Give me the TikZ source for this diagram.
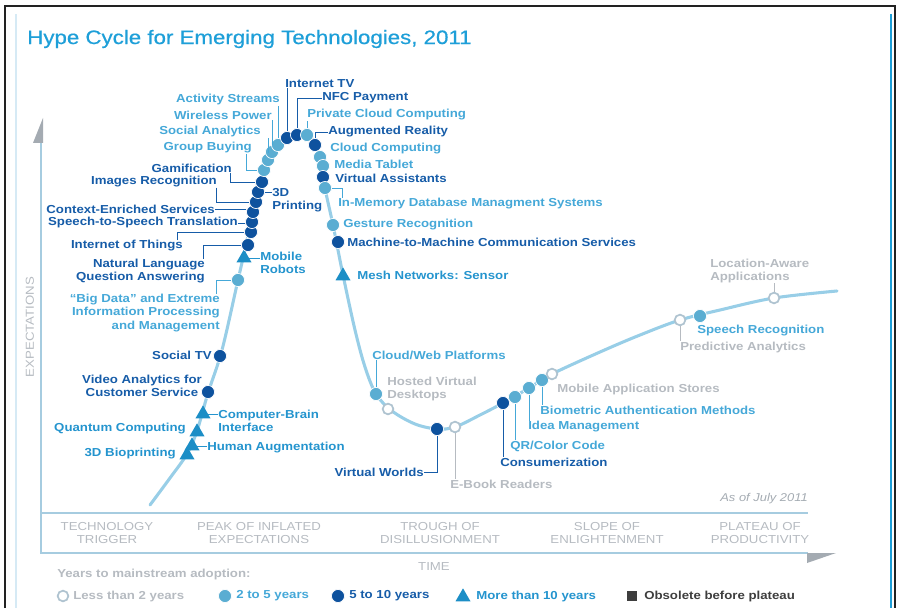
\documentclass[tikz,border=0pt]{standalone}
\usepackage{fontspec}
\setmainfont{Liberation Sans}[FakeStretch=1.14]
\newfontfamily\titlefont{Liberation Sans}[FakeStretch=1.145, FakeBold=0.6]
\usetikzlibrary{shapes.geometric}
\definecolor{TT}{HTML}{1E9FD8}
\definecolor{LT}{HTML}{45A8D8}
\definecolor{LC}{HTML}{5AADD2}
\definecolor{DK}{HTML}{165CA8}
\definecolor{DC}{HTML}{0E529E}
\definecolor{TB}{HTML}{2494CE}
\definecolor{TC}{HTML}{1C8EC6}
\definecolor{GY}{HTML}{B6BBC1}
\definecolor{GA}{HTML}{A4ABB2}
\definecolor{CV}{HTML}{98CEE7}
\definecolor{AX}{HTML}{A6CCE0}
\definecolor{OC}{HTML}{AFC3D0}
\definecolor{OB}{HTML}{3E3E3E}
\definecolor{FR}{HTML}{222222}
\begin{document}
\begin{tikzpicture}[x=0.75pt,y=-0.75pt,
  lbl/.style={font=\bfseries\fontsize{8.7}{10}\selectfont, inner sep=0pt},
  phase/.style={font=\fontsize{8.7}{10.3}\selectfont, inner sep=0pt, text=GY, align=center},
  mL/.style={circle, fill=LC, draw=white, line width=0.5pt, minimum size=9.8pt, inner sep=0pt},
  mD/.style={circle, fill=DC, draw=white, line width=0.5pt, minimum size=9.8pt, inner sep=0pt},
  mO/.style={circle, fill=white, draw=OC, line width=1.3pt, minimum size=8pt, inner sep=0pt},
  mT/.style={regular polygon, regular polygon sides=3, fill=TC, minimum size=13pt, inner sep=0pt},
  ldL/.style={draw=LT, line width=0.6pt},
  ldD/.style={draw=DK, line width=0.6pt},
  ldT/.style={draw=TB, line width=0.6pt},
  ldG/.style={draw=GY, line width=0.6pt}]
\useasboundingbox (0,0) rectangle (898,616);
% frame
\draw[FR, line width=2.2pt] (5,608) -- (5,6) -- (895,6) -- (895,608);
\draw[draw={rgb,255:red,214;green,234;blue,245}, line width=0.8pt] (16,14) -- (16,608);
\draw[TT, line width=1.5pt] (891,14) -- (891,608);
% title
\node[anchor=west, inner sep=0pt, text=TT, font=\titlefont\fontsize{14.6}{16}\selectfont] (title) at (27,39) {Hype Cycle for Emerging Technologies, 2011};
% axes
\draw[AX, line width=0.8pt] (41,140) -- (41,553) -- (808,553);
\draw[AX, line width=0.8pt] (41,513) -- (808,513);
\fill[GA] (43,118) -- (43,143) -- (33,143) -- cycle;
\fill[GA] (807,553) -- (836,553) -- (807,563) -- cycle;
\node[phase, rotate=90] (yl) at (30,327) {EXPECTATIONS};
\node[phase] (p1) at (107,533) {TECHNOLOGY\\TRIGGER};
\node[phase] (p2) at (259,533) {PEAK OF INFLATED\\EXPECTATIONS};
\node[phase] (p3) at (440,533) {TROUGH OF\\DISILLUSIONMENT};
\node[phase] (p4) at (607,533) {SLOPE OF\\ENLIGHTENMENT};
\node[phase] (p5) at (760,533) {PLATEAU OF\\PRODUCTIVITY};
\node[phase] (time) at (434,567) {TIME};
\node[anchor=east, inner sep=0pt, text=GA, font=\itshape\fontsize{8.5}{10}\selectfont] (asof) at (808,499) {As of July 2011};
% curve
\draw[CV, line width=2.3pt, line cap=round] plot[smooth, tension=0.55] coordinates {
 (150,505) (170,478) (187,454) (197,431) (208,393) (222,350) (238,280) (246,245) (253,212) (262,180) (272,153) (285,139) (300,133) (313,140) (321,158) (325,188) (333,225) (343,275) (355,330) (365,367) (376,394) (392,411) (415,424) (437,429) (455,427) (480,415) (503,403) (529,388) (552,374) (600,352) (640,335) (680,320) (720,310) (774,298) (837,291)};
% markers
\node[mT] (t1) at (187,455) {};
\node[mT] (t2) at (192,446) {};
\node[mT] (t3) at (197,432) {};
\node[mT] (t4) at (203,414) {};
\node[mD] (d1) at (208,392) {};
\node[mD] (d2) at (220,356) {};
\node[mL] (l1) at (238,280) {};
\node[mT] (t5) at (244,258) {};
\node[mD] (d3) at (248,245) {};
\node[mD] (d4) at (251,232) {};
\node[mD] (d5) at (252,222) {};
\node[mD] (d6) at (253,212) {};
\node[mD] (d7) at (256,202) {};
\node[mD] (d8) at (258,192) {};
\node[mD] (d9) at (262,182) {};
\node[mL] (l2) at (264,170) {};
\node[mL] (l3) at (268,160) {};
\node[mL] (l4) at (272,152) {};
\node[mL] (l5) at (278,145) {};
\node[mD] (d10) at (287,138) {};
\node[mD] (d11) at (297,135) {};
\node[mL] (l6) at (307,135) {};
\node[mD] (d12) at (315,145) {};
\node[mL] (l7) at (320,157) {};
\node[mL] (l8) at (323,166) {};
\node[mD] (d13) at (323,177) {};
\node[mL] (l9) at (325,188) {};
\node[mL] (l10) at (333,225) {};
\node[mD] (d14) at (338,242) {};
\node[mT] (t6) at (343,276) {};
\node[mL] (l11) at (376,394) {};
\node[mO] (o1) at (388,409) {};
\node[mD] (d15) at (437,429) {};
\node[mO] (o2) at (455,427) {};
\node[mD] (d16) at (503,403) {};
\node[mL] (l12) at (515,397) {};
\node[mL] (l13) at (529,388) {};
\node[mL] (l14) at (542,380) {};
\node[mO] (o3) at (552,374) {};
\node[mO] (o4) at (680,320) {};
\node[mL] (l15) at (700,316) {};
\node[mO] (o5) at (774,298) {};
% labels left rise
\node[lbl, text=TB, anchor=east] (bio) at (176,454) {3D Bioprinting};
\node[lbl, text=TB, anchor=west] (ha) at (207,448) {Human Augmentation};
\node[lbl, text=TB, anchor=east] (qc) at (186,429) {Quantum Computing};
\node[lbl, text=TB, anchor=west, align=left] (cb) at (218,421) {Computer-Brain\\Interface};
\node[lbl, text=DK, anchor=east, align=center] (va) at (202,386) {Video Analytics for\\Customer Service};
\node[lbl, text=DK, anchor=east] (stv) at (212,355) {Social TV};
\node[lbl, text=LT, anchor=east, align=right] (bd) at (220,313) {“Big Data” and Extreme\\Information Processing\\and Management};
\node[lbl, text=TB, anchor=west, align=left] (mr) at (260,263) {Mobile\\Robots};
\node[lbl, text=DK, anchor=east, align=right] (nl) at (205,271) {Natural Language\\Question Answering};
\node[lbl, text=DK, anchor=east] (iot) at (183,246) {Internet of Things};
\node[lbl, text=DK, anchor=east] (ss) at (238,223) {Speech-to-Speech Translation};
\node[lbl, text=DK, anchor=east] (ce) at (215,209) {Context-Enriched Services};
\node[lbl, text=DK, anchor=east] (ir) at (217,182) {Images Recognition};
\node[lbl, text=DK, anchor=east] (gam) at (232,168) {Gamification};
\node[lbl, text=DK, anchor=west, align=left] (tdp) at (272,200) {3D\\Printing};
\node[lbl, text=LT, anchor=east] (gb) at (252,148) {Group Buying};
\node[lbl, text=LT, anchor=east] (sa) at (261,132) {Social Analytics};
\node[lbl, text=LT, anchor=east] (wp) at (272,115) {Wireless Power};
\node[lbl, text=LT, anchor=east] (as) at (280,100) {Activity Streams};
% labels peak right
\node[lbl, text=DK, anchor=west] (itv) at (285,84) {Internet TV};
\node[lbl, text=DK, anchor=west] (nfc) at (322,98) {NFC Payment};
\node[lbl, text=LT, anchor=west] (pcc) at (307,115) {Private Cloud Computing};
\node[lbl, text=DK, anchor=west] (ar) at (328,132) {Augmented Reality};
\node[lbl, text=LT, anchor=west] (cc) at (330,149) {Cloud Computing};
\node[lbl, text=LT, anchor=west] (mt) at (334,164) {Media Tablet};
\node[lbl, text=DK, anchor=west] (vas) at (335,178) {Virtual Assistants};
\node[lbl, text=LT, anchor=west] (im) at (338,204) {In-Memory Database Managment Systems};
\node[lbl, text=LT, anchor=west] (gr) at (343,225) {Gesture Recognition};
\node[lbl, text=DK, anchor=west] (m2m) at (347,242) {Machine-to-Machine Communication Services};
\node[lbl, text=TB, anchor=west] (mesh) at (357,275) {Mesh Networks: Sensor};
% trough and slope
\node[lbl, text=LT, anchor=west] (cw) at (372,355) {Cloud/Web Platforms};
\node[lbl, text=GY, anchor=west, align=left] (hvd) at (387,389) {Hosted Virtual\\Desktops};
\node[lbl, text=DK, anchor=east] (vw) at (424,472) {Virtual Worlds};
\node[lbl, text=GY, anchor=west] (eb) at (450,484) {E-Book Readers};
\node[lbl, text=DK, anchor=west] (cz) at (500,462) {Consumerization};
\node[lbl, text=LT, anchor=west] (qr) at (510,446) {QR/Color Code};
\node[lbl, text=LT, anchor=west] (idm) at (528,427) {Idea Management};
\node[lbl, text=LT, anchor=west] (bio2) at (540,410) {Biometric Authentication Methods};
\node[lbl, text=GY, anchor=west] (mas) at (557,389) {Mobile Application Stores};
\node[lbl, text=LT, anchor=west] (sr) at (697,331) {Speech Recognition};
\node[lbl, text=GY, anchor=west] (pa) at (680,347) {Predictive Analytics};
\node[lbl, text=GY, anchor=west, align=left] (la) at (710,271) {Location-Aware\\Applications};
% leaders
\draw[ldT] (t2.east) -- (t2.east -| ha.west);
\draw[ldT] (t4.east) -- (t4.east -| cb.west);
\draw[ldT] (t5.east) -- (t5.east -| mr.west);
\draw[ldL] ([xshift=-2.5pt]bd.north east) |- (l1);
\draw[ldD] ([xshift=-1.5pt]nl.north east) |- (d3);
\draw[ldD] ([xshift=-4pt]iot.north east) |- (d4);
\draw[ldD] (ss.east) -- (ss.east -| d5.west);
\draw[ldD] (ce.east) -- (ce.east -| d6.west);
\draw[ldD] ([xshift=-0.5pt]ir.south east) |- (d7);
\draw[ldD] ([xshift=-1.5pt]gam.south east) |- (d9);
\draw[ldD] (d8.east) -- (d8.east -| tdp.west);
\draw[ldL] ([xshift=-4pt]gb.south east) |- (l2);
\draw[ldL] (l3.north) -- (l3.north |- sa.south);
\draw[ldL] (l4.north) -- (l4.north |- wp.south);
\draw[ldL] (l5.north) -- (l5.north |- as.south);
\draw[ldD] (d10.north) -- (d10.north |- itv.south);
\draw[ldD] (nfc.west) -| (d11.north);
\draw[ldL] (l6.north) -- (l6.north |- pcc.south);
\draw[ldD] (ar.west) -| (d12.north);
\draw[ldL] (l9.east) -| ([xshift=3pt]im.north west);
\draw[ldL] (l11.north) -- (l11.north |- cw.south);
\draw[ldD] (vw.east) -| (d15.south);
\draw[ldG] (o2.south) -- (o2.south |- eb.north);
\draw[ldD] (d16.south) -- (d16.south |- cz.north);
\draw[ldL] (l12.south) -- (l12.south |- qr.north);
\draw[ldL] (l13.south) -- (l13.south |- idm.north);
\draw[ldL] (l14.south) -- (l14.south |- bio2.north);
\draw[ldG] (o4.south) -- (o4.south |- pa.north);
\draw[ldG] (o5.north) -- (o5.north |- la.south);
% legend
\node[lbl, text=GY, anchor=west] (yrs) at (57,574) {Years to mainstream adoption:};
\node[mO] (k1) at (63,596) {};
\node[lbl, text=GY, anchor=west] (k1t) at (73,596) {Less than 2 years};
\node[mL] (k2) at (225,596) {};
\node[lbl, text=LT, anchor=west] (k2t) at (236,596) {2 to 5 years};
\node[mD] (k3) at (338,596) {};
\node[lbl, text=DK, anchor=west] (k3t) at (349,596) {5 to 10 years};
\node[mT] (k4) at (463,597) {};
\node[lbl, text=TB, anchor=west] (k4t) at (476,596) {More than 10 years};
\node[rectangle, fill=OB, minimum size=7.5pt, inner sep=0pt] (k5) at (632,596) {};
\node[lbl, text=OB, anchor=west] (k5t) at (644,596) {Obsolete before plateau};
\end{tikzpicture}
\end{document}
